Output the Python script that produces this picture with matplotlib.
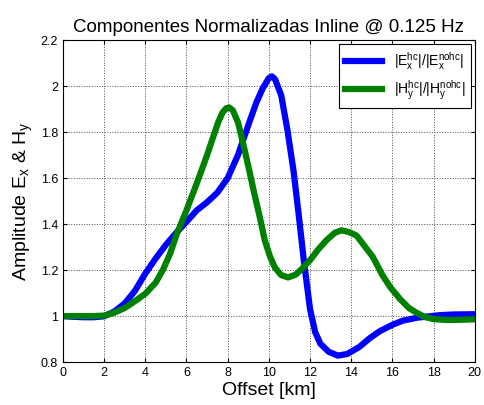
import matplotlib.pyplot as plt
import numpy as np

plt.rcParams['font.family'] = ['Liberation Sans', 'DejaVu Sans']
plt.rcParams['mathtext.default'] = 'regular'

# offset [km] and normalized amplitudes
offset_ex = [0, 0.5, 1, 1.5, 2, 2.5, 3, 3.5, 4, 4.5, 5, 5.5, 6, 6.5, 7, 7.5, 8, 8.5, 9,
             9.4, 9.7, 10.0, 10.15, 10.3, 10.6, 10.9, 11.2, 11.45, 11.7, 12.0, 12.25,
             12.5, 12.9, 13.35, 13.8, 14.4, 14.9, 15.4, 16.0, 16.5, 17.2, 18.3, 19, 20]
amp_ex = [1.0, 0.997, 0.995, 0.995, 0.999, 1.02, 1.055, 1.11, 1.185, 1.25, 1.31, 1.362,
          1.41, 1.46, 1.495, 1.537, 1.60, 1.70, 1.83, 1.93, 1.99, 2.035, 2.042, 2.03,
          1.96, 1.81, 1.63, 1.44, 1.24, 1.03, 0.93, 0.88, 0.845, 0.828, 0.835, 0.866,
          0.904, 0.935, 0.962, 0.98, 0.993, 1.004, 1.007, 1.008]

offset_hy = [0, 1, 1.5, 2, 2.5, 3, 3.5, 4, 4.5, 4.85, 5.2, 5.52, 6.0, 6.5, 7.0, 7.3, 7.55,
             7.75, 7.92, 8.07, 8.25, 8.51, 8.83, 9.08, 9.3, 9.56, 9.8, 10.05, 10.3, 10.6,
             10.93, 11.3, 11.6, 12.0, 12.4, 12.8, 13.2, 13.53, 13.9, 14.26, 14.6, 15.05,
             15.5, 15.9, 16.36, 16.8, 17.2, 17.6, 18.0, 18.6, 19.3, 20]
amp_hy = [1.0, 1.0, 1.0, 1.002, 1.015, 1.035, 1.065, 1.097, 1.145, 1.2, 1.27, 1.355,
          1.46, 1.577, 1.70, 1.78, 1.845, 1.885, 1.903, 1.907, 1.895, 1.84, 1.72, 1.62,
          1.53, 1.43, 1.33, 1.26, 1.21, 1.178, 1.168, 1.18, 1.205, 1.243, 1.29, 1.33,
          1.362, 1.373, 1.365, 1.35, 1.31, 1.257, 1.18, 1.125, 1.075, 1.035, 1.013,
          0.995, 0.987, 0.983, 0.984, 0.986]

xticks = list(range(0, 21, 2))
yticks = [0.8, 1.0, 1.2, 1.4, 1.6, 1.8, 2.0, 2.2]
ytick_labels = ['0.8', '1', '1.2', '1.4', '1.6', '1.8', '2', '2.2']

fig = plt.figure(figsize=(4.84, 4.05), dpi=100)
ax = fig.add_axes([0.130, 0.106, 0.851, 0.795])

ax.plot(offset_ex, amp_ex, color=(0, 0, 1), lw=4.5, solid_joinstyle='round',
        label=r'$|E_x^{hc}|/|E_x^{nohc}|$')
ax.plot(offset_hy, amp_hy, color=(0, 0.5, 0), lw=4.5, solid_joinstyle='round',
        label=r'$|H_y^{hc}|/|H_y^{nohc}|$')

ax.set_xlim(0, 20)
ax.set_ylim(0.8, 2.2)
ax.set_xticks(xticks)
ax.set_yticks(yticks)
ax.set_yticklabels(ytick_labels)
ax.tick_params(direction='in', top=True, right=True, labelsize=9, length=3)
ax.grid(True, linestyle=':', color='0.3', linewidth=0.7)

ax.set_title('Componentes Normalizadas Inline @ 0.125 Hz', fontsize=13.5)
ax.set_xlabel('Offset [km]', fontsize=14, labelpad=2)
ax.set_ylabel(r'Amplitude E$_x$ & H$_y$', fontsize=14, labelpad=4)

leg = ax.legend(loc='upper right', fontsize=10, fancybox=False, framealpha=1,
                edgecolor='black', handlelength=2.7, borderaxespad=0.3)
leg.get_frame().set_linewidth(0.8)

fig.savefig('out.png', dpi=100)
